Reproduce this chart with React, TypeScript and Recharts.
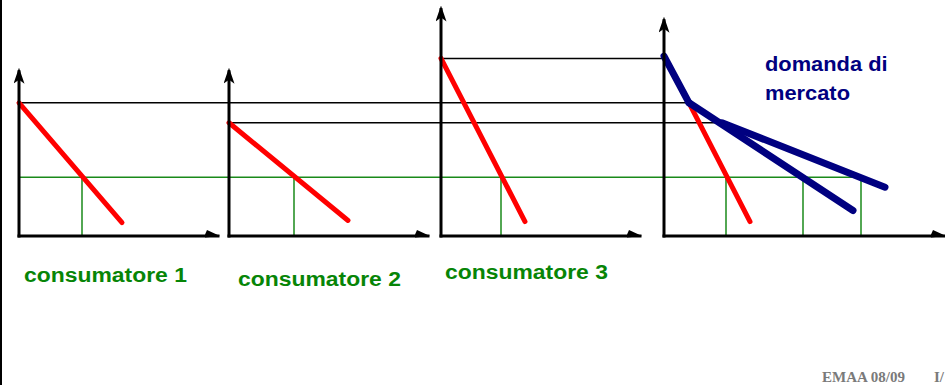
import React from 'react';
import { ComposedChart, Line, ReferenceLine, XAxis, YAxis } from 'recharts';

// tre consumatori: prezzo massimo (intercetta) e fine della retta di domanda
const consumers = ['consumatore 1', 'consumatore 2', 'consumatore 3'];
const maxPrice = [12, 10.2, 16];
const demandEndQ = [10.3, 11.9, 8.4];
const demandEndP = [1.2, 1.4, 1.3];

// prezzo di mercato e quantità domandate a quel prezzo
const eqPrice = 5.3;
const eqQty = [6.3, 6.5, 6.0];

// domanda di mercato (somma orizzontale)
const marketHigh = [{ q: 0, p: 16.2 }, { q: 2.5, p: 12 }];
const marketLow = [{ q: 2.5, p: 12 }, { q: 18.9, p: 2.3 }];
const marketUpper = [{ q: 5.8, p: 10.2 }, { q: 22.1, p: 4.4 }];
const marketC3 = [{ q: 2.5, p: 12 }, { q: 8.6, p: 1.3 }];
const marketEqQty = [6.2, 13.9, 19.7];

// layout: origine di ogni pannello e lunghezza degli assi (unità del grafico)
const PANEL_X = [1.9, 22.9, 44.1, 66.4];
const AXIS_Q = [19.9, 19.9, 19.9, 28];
const AXIS_P = [14.8, 14.8, 20.4, 19.4];

const RED = '#ff0000';
const NAVY = '#000080';
const GREEN = '#1a8a1a';
const TEXT_GREEN = '#078507';

const seg = (q1: number, p1: number, q2: number, p2: number) => [
  { q: q1, p: p1 },
  { q: q2, p: p2 },
];

const shift = (pts: { q: number; p: number }[], dx: number) =>
  pts.map(pt => ({ q: pt.q + dx, p: pt.p }));

const App: React.FC = () => {
  const m = PANEL_X[3];

  // linee orizzontali nere dai prezzi massimi fino alla domanda di mercato
  const blackLines = [
    seg(PANEL_X[0], maxPrice[0], m + marketHigh[1].q, maxPrice[0]),
    seg(PANEL_X[1], maxPrice[1], m + marketUpper[0].q, maxPrice[1]),
    seg(PANEL_X[2], maxPrice[2], m, maxPrice[2]),
  ];
  const greenH = seg(PANEL_X[0], eqPrice, m + marketEqQty[2], eqPrice);
  const greenV = [
    ...eqQty.map((q, i) => seg(PANEL_X[i] + q, 0, PANEL_X[i] + q, eqPrice)),
    ...marketEqQty.map(q => seg(m + q, 0, m + q, eqPrice)),
  ];
  const redLines = [
    ...consumers.map((_, i) =>
      seg(PANEL_X[i], maxPrice[i], PANEL_X[i] + demandEndQ[i], demandEndP[i]),
    ),
    shift(marketC3, m),
  ];
  const blueLines = [shift(marketHigh, m), shift(marketLow, m), shift(marketUpper, m)];

  const labelStyle: React.CSSProperties = {
    position: 'absolute',
    fontFamily: 'Arial, "Liberation Sans", sans-serif',
    fontWeight: 'bold',
    fontSize: 20,
    lineHeight: '20px',
    whiteSpace: 'nowrap',
    transformOrigin: 'left top',
    transform: 'scaleX(1.145)',
    color: TEXT_GREEN,
  };
  const labelPos = [
    { left: 24, top: 265 },
    { left: 238, top: 269 },
    { left: 445, top: 262 },
  ];
  const footStyle: React.CSSProperties = {
    position: 'absolute',
    top: 370,
    fontFamily: '"Times New Roman", "Liberation Serif", serif',
    fontWeight: 'bold',
    fontSize: 15,
    lineHeight: '15px',
    color: '#7a7a7a',
    whiteSpace: 'nowrap',
  };

  return (
    <div
      style={{
        position: 'absolute',
        left: 0,
        top: 0,
        width: 945,
        height: 385,
        background: '#fff',
        overflow: 'hidden',
      }}
    >
      <svg width={0} height={0} style={{ position: 'absolute' }}>
        <defs>
          <marker
            id="arrowUp"
            markerUnits="userSpaceOnUse"
            markerWidth={16}
            markerHeight={11}
            viewBox="0 0 16 11"
            refX={12}
            refY={5.5}
            orient="auto"
          >
            <path d="M0,0 L16,5.5 L0,11 L4,5.5 z" fill="#000" />
          </marker>
          <marker
            id="arrowRight"
            markerUnits="userSpaceOnUse"
            markerWidth={15}
            markerHeight={9}
            viewBox="0 0 15 9"
            refX={13}
            refY={6.5}
            orient="auto"
          >
            <path d="M0,5 L2,0.5 L15,6.5 L0,8 z" fill="#000" />
          </marker>
        </defs>
      </svg>

      <div
        style={{ position: 'absolute', left: 0, top: 0, width: 2, height: 385, background: '#000' }}
      />

      <div style={{ position: 'absolute', left: 0, top: 0 }}>
        <ComposedChart
          width={945}
          height={385}
          margin={{ top: 5, right: 0, bottom: 149, left: 0 }}
        >
          <XAxis type="number" dataKey="q" domain={[0, 94.5]} hide allowDataOverflow />
          <YAxis type="number" dataKey="p" domain={[0, 20.81]} hide allowDataOverflow />

          {blackLines.map((d, i) => (
            <Line
              key={`b${i}`}
              data={d}
              dataKey="p"
              type="linear"
              stroke="#000"
              strokeWidth={1.5}
              dot={false}
              activeDot={false}
              isAnimationActive={false}
            />
          ))}
          <Line
            data={greenH}
            dataKey="p"
            type="linear"
            stroke={GREEN}
            strokeWidth={1.5}
            dot={false}
            activeDot={false}
            isAnimationActive={false}
          />
          {greenV.map((d, i) => (
            <Line
              key={`g${i}`}
              data={d}
              dataKey="p"
              type="linear"
              stroke={GREEN}
              strokeWidth={1.5}
              dot={false}
              activeDot={false}
              isAnimationActive={false}
            />
          ))}
          {redLines.map((d, i) => (
            <Line
              key={`r${i}`}
              data={d}
              dataKey="p"
              type="linear"
              stroke={RED}
              strokeWidth={5}
              strokeLinecap="round"
              dot={false}
              activeDot={false}
              isAnimationActive={false}
            />
          ))}
          {blueLines.map((d, i) => (
            <Line
              key={`n${i}`}
              data={d}
              dataKey="p"
              type="linear"
              stroke={NAVY}
              strokeWidth={7}
              strokeLinecap="round"
              dot={false}
              activeDot={false}
              isAnimationActive={false}
            />
          ))}

          {PANEL_X.map((x0, i) => (
            <ReferenceLine
              key={`ya${i}`}
              segment={[
                { x: x0, y: 0 },
                { x: x0, y: AXIS_P[i] },
              ]}
              stroke="#000"
              strokeWidth={3}
              strokeLinecap="square"
              markerEnd="url(#arrowUp)"
            />
          ))}
          {PANEL_X.map((x0, i) => (
            <ReferenceLine
              key={`xa${i}`}
              segment={[
                { x: x0, y: 0 },
                { x: x0 + AXIS_Q[i], y: 0 },
              ]}
              stroke="#000"
              strokeWidth={3}
              strokeLinecap="square"
              markerEnd="url(#arrowRight)"
            />
          ))}
        </ComposedChart>
      </div>

      {consumers.map((c, i) => (
        <div key={c} style={{ ...labelStyle, ...labelPos[i] }}>
          {c}
        </div>
      ))}

      <div style={{ ...labelStyle, color: NAVY, fontSize: 19.5, lineHeight: '19.5px', transform: 'scaleX(1.12)', left: 765, top: 55 }}>
        domanda di
      </div>
      <div style={{ ...labelStyle, color: NAVY, fontSize: 19.5, lineHeight: '19.5px', transform: 'scaleX(1.12)', left: 765, top: 84 }}>
        mercato
      </div>

      <div style={{ ...footStyle, left: 822 }}>EMAA 08/09</div>
      <div style={{ ...footStyle, left: 934 }}>I/</div>
    </div>
  );
};

export default App;
